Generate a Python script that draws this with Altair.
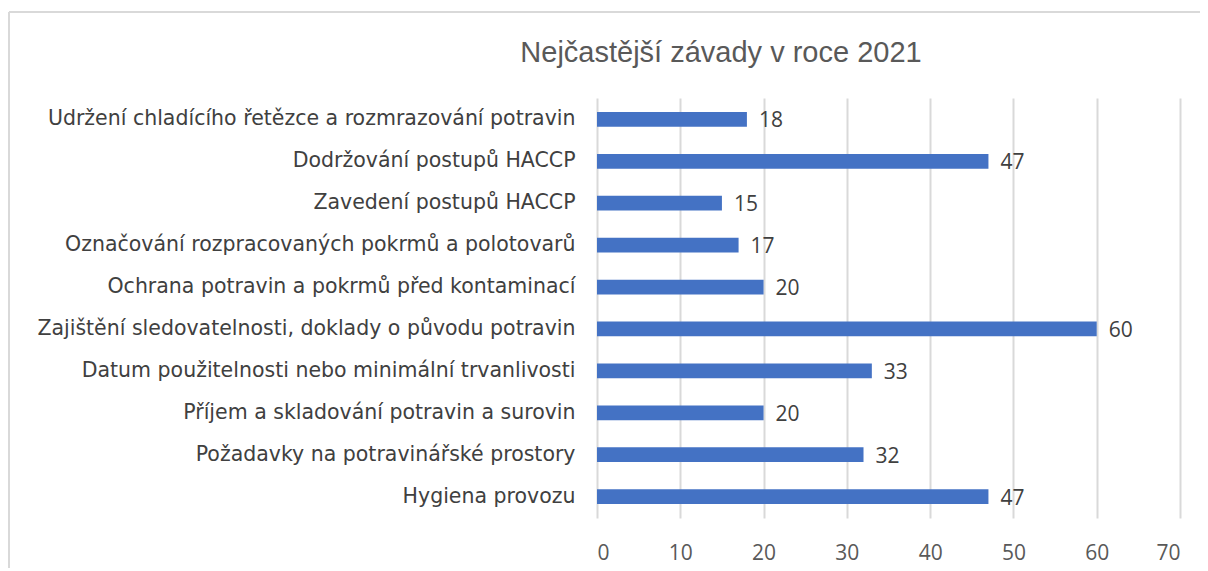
import altair as alt
import pandas as pd

title_text = "Nejčastější závady v roce 2021"
categories = [
    "Udržení chladícího řetězce a rozmrazování potravin",
    "Dodržování postupů HACCP",
    "Zavedení postupů HACCP",
    "Označování rozpracovaných pokrmů a polotovarů",
    "Ochrana potravin a pokrmů před kontaminací",
    "Zajištění sledovatelnosti, doklady o původu potravin",
    "Datum použitelnosti nebo minimální trvanlivosti",
    "Příjem a skladování potravin a surovin",
    "Požadavky na potravinářské prostory",
    "Hygiena provozu",
]
values = [18, 47, 15, 17, 20, 60, 33, 20, 32, 47]
x_ticks = [0, 10, 20, 30, 40, 50, 60, 70]

df = pd.DataFrame({"cat": categories, "val": values})

y_enc = alt.Y("cat:N", sort=categories,
              scale=alt.Scale(paddingInner=0.65, paddingOuter=0.335),
              axis=alt.Axis(title=None, ticks=False, domain=False, labelFontSize=20.5,
                            labelFont="DejaVu Sans", labelColor="#404040",
                            labelPadding=22, labelLimit=800))
x_enc = alt.X("val:Q", scale=alt.Scale(domain=[0, 70], nice=False),
              axis=alt.Axis(title=None, values=x_ticks, ticks=False, domain=False,
                            grid=True, gridColor="#d9d9d9", gridWidth=2,
                            labelFontSize=21, labelFont="Open Sans", labelColor="#595959",
                            labelPadding=24))

bars = alt.Chart(df).mark_bar(color="#4472C4").encode(x=x_enc, y=y_enc)
labels = alt.Chart(df).mark_text(align="left", baseline="middle", dx=12, dy=2,
                                 fontSize=21, font="Open Sans", color="#404040").encode(
    x="val:Q", y=alt.Y("cat:N", sort=categories), text="val:Q")

title = alt.Chart(pd.DataFrame({"t": [title_text]})).mark_text(
    align="center", baseline="alphabetic", fontSize=29, font="Liberation Sans",
    color="#595959").encode(x=alt.value(124), y=alt.value(-36), text="t:N")

border_left = alt.Chart(df).mark_rule(color="#d9d9d9", strokeWidth=2).encode(
    x=alt.value(-588), y=alt.value(-86), y2=alt.value(480))
border_top = alt.Chart(df).mark_rule(color="#d9d9d9", strokeWidth=2).encode(
    x=alt.value(-588), x2=alt.value(700), y=alt.value(-86))

chart = alt.layer(border_left, border_top, bars, labels, title).properties(
    width=583, height=420,
    autosize=alt.AutoSizeParams(type="none"),
    padding={"left": 589, "top": 90, "right": 20, "bottom": 50},
).configure_view(stroke=None)

chart.save("out.html", embed_options={"renderer": "svg", "actions": False})
